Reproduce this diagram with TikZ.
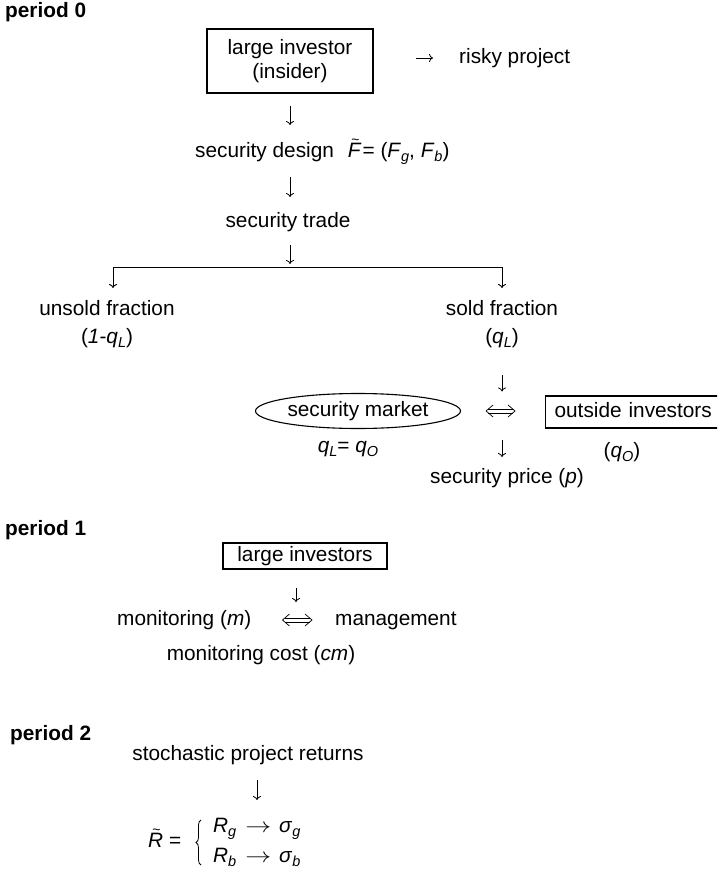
\documentclass[tikz,border=0pt]{standalone}
\usepackage{fontspec}
\setmainfont{Liberation Sans}
\usetikzlibrary{arrows.meta,shapes.geometric,decorations.pathreplacing,calc}

% lowered italic subscript
\newcommand\lsub[1]{\raisebox{-4.5pt}{\fontsize{14.5pt}{14.5pt}\selectfont\itshape #1}}
% small tilde set above a letter
\newsavebox\tildbox
\newcommand\tildeabove[1]{\sbox\tildbox{#1}\rlap{\hbox to \wd\tildbox{\hss\kern1.5pt\raisebox{12.5pt}{\fontsize{14pt}{14pt}\selectfont\textasciitilde}\hss}}\usebox\tildbox}
% two-way double arrow between two named coordinates
\newcommand\iffarrow[2]{%
  \draw[iffline] ($(#1)+(7,-6)$) -- (#1) -- ($(#1)+(7,6)$);
  \draw[iffline] ($(#2)+(-7,-6)$) -- (#2) -- ($(#2)+(-7,6)$);
  \draw[iffline] ($(#1)+(2.3,-2)$) -- ($(#2)+(-2.3,-2)$);
  \draw[iffline] ($(#1)+(2.3,2)$) -- ($(#2)+(-2.3,2)$);}

\begin{document}
\begin{tikzpicture}[x=1pt,y=-1pt,
  font=\fontsize{20.8pt}{24pt}\selectfont,
  txt/.style={inner sep=0pt, text height=15pt, text depth=4.5pt},
  head/.style={txt, font=\fontsize{20.8pt}{24pt}\selectfont\bfseries, anchor=west},
  boxed/.style={draw, line width=1.2pt, inner sep=0pt},
  arr/.style={line width=0.8pt, -{To[length=4pt,width=8pt]}},
  iffline/.style={line width=0.7pt, line join=miter},
  branchline/.style={line width=0.9pt, -{To[length=4pt,width=8pt]}}]

\useasboundingbox (0,0) rectangle (717,877);
\clip (0,0) rectangle (717,877);

% ---------------- period 0 ----------------
\node[head] (p0) at (5,12) {period 0};
\node[boxed, minimum width=166pt, minimum height=64pt, align=center] (inv) at (290,61)
  {large investor\\(insider)};
\node[txt, anchor=west] (risky) at (459,58) {risky project};
\draw[arr, shorten <=42pt, shorten >=26pt] (inv.east |- risky.west) -- (risky.west);

\node[txt, anchor=west] (design) at (195,152)
  {security design\hspace{14pt}\tildeabove{\textit{F}}\hspace{1pt}= (\textit{F}\lsub{g}, \textit{F}\lsub{b})};
\draw[arr, shorten <=12pt, shorten >=17pt] (inv.south) -- (inv.south |- design.north);

\node[txt] (trade) at (288,222) {security trade};
\draw[arr, shorten <=15pt, shorten >=15pt] (inv.south |- design.south) -- (inv.south |- trade.north);

\coordinate (split) at (290,267);
\coordinate (lfoot) at (113,288);
\coordinate (rfoot) at (502,288);
\draw[arr, shorten <=13pt, shorten >=3pt] (trade.south -| split) -- (split);
\draw[branchline] (split) -| (lfoot);
\draw[branchline] (split) -| (rfoot);

\node[txt] (unsold) at (107,310) {unsold fraction};
\node[txt] (unsoldq) at (107,338) {(\textit{1}-\textit{q}\lsub{L})};
\node[txt] (sold) at (502,310) {sold fraction};
\node[txt] (soldq) at (502,338) {(\textit{q}\lsub{L})};

\node[txt, draw, ellipse, line width=1.1pt, minimum width=205pt, minimum height=35pt] (market)
  at (358,411) {security market};
\node[boxed, anchor=west, inner xsep=9pt, text width=180pt, align=left, minimum height=32pt,
  text height=15pt, text depth=4.5pt] (outside) at (545,412) {outside investors};
\coordinate (mk1) at ($(market.east)+(25,0)$);
\coordinate (mk2) at ($(market.east -| outside.west)+(-30,0)$);
\iffarrow{mk1}{mk2}

\draw[arr, shorten <=27pt, shorten >=1.5pt] (soldq.south) -- (soldq.south |- market.north);
\node[txt] (price) at (507,478) {security price (\textit{p})};
\draw[arr, shorten <=11pt, shorten >=11pt] (soldq.south |- market.south) -- (soldq.south |- price.north);

\node[txt] (qeq) at (348,447) {\textit{q}\lsub{L}= \textit{q}\lsub{O}};
\node[txt] (qo) at (622,452) {(\textit{q}\lsub{O})};

% ---------------- period 1 ----------------
\node[head] (p1) at (5,530) {period 1};
\node[boxed, minimum width=164pt, minimum height=26pt, text height=15pt, text depth=4.5pt] (li)
  at (305,556) {large investors};
\node[txt, anchor=west] (mon) at (117,620) {monitoring (\textit{m})};
\node[txt, anchor=west] (mgmt) at (335,620) {management};
\draw[arr, shorten <=18pt, shorten >=8pt] ([xshift=-9pt]li.south) -- ([xshift=-9pt]li.south |- mon.north);
\coordinate (mg1) at ($(mon.east)+(31,0)$);
\coordinate (mg2) at ($(mgmt.west)+(-23,0)$);
\iffarrow{mg1}{mg2}
\node[txt] (cost) at (261,655) {monitoring cost (\textit{cm})};

% ---------------- period 2 ----------------
\node[head] (p2) at (10,735) {period 2};
\node[txt] (stoch) at (248,755) {stochastic project returns};
\node[txt, anchor=west] (rtil) at (148,842) {\tildeabove{\textit{R}} =};
\draw[decorate, decoration={brace, amplitude=5pt}, line width=0.8pt] (201,865) -- (201,820);
\node[txt, anchor=west] (rg) at (213,827)
  {\textit{R}\lsub{g}\hspace{9pt}\scalebox{1.25}[1]{$\rightarrow$}\hspace{8pt}\textit{σ}\lsub{g}};
\node[txt, anchor=west] (rb) at (213,857)
  {\textit{R}\lsub{b}\hspace{9pt}\scalebox{1.25}[1]{$\rightarrow$}\hspace{8pt}\textit{σ}\lsub{b}};
\draw[arr, shorten <=15pt, shorten >=17pt] ([xshift=9pt]stoch.south) -- ([xshift=9pt]stoch.south |- rg.north);

\end{tikzpicture}
\end{document}
